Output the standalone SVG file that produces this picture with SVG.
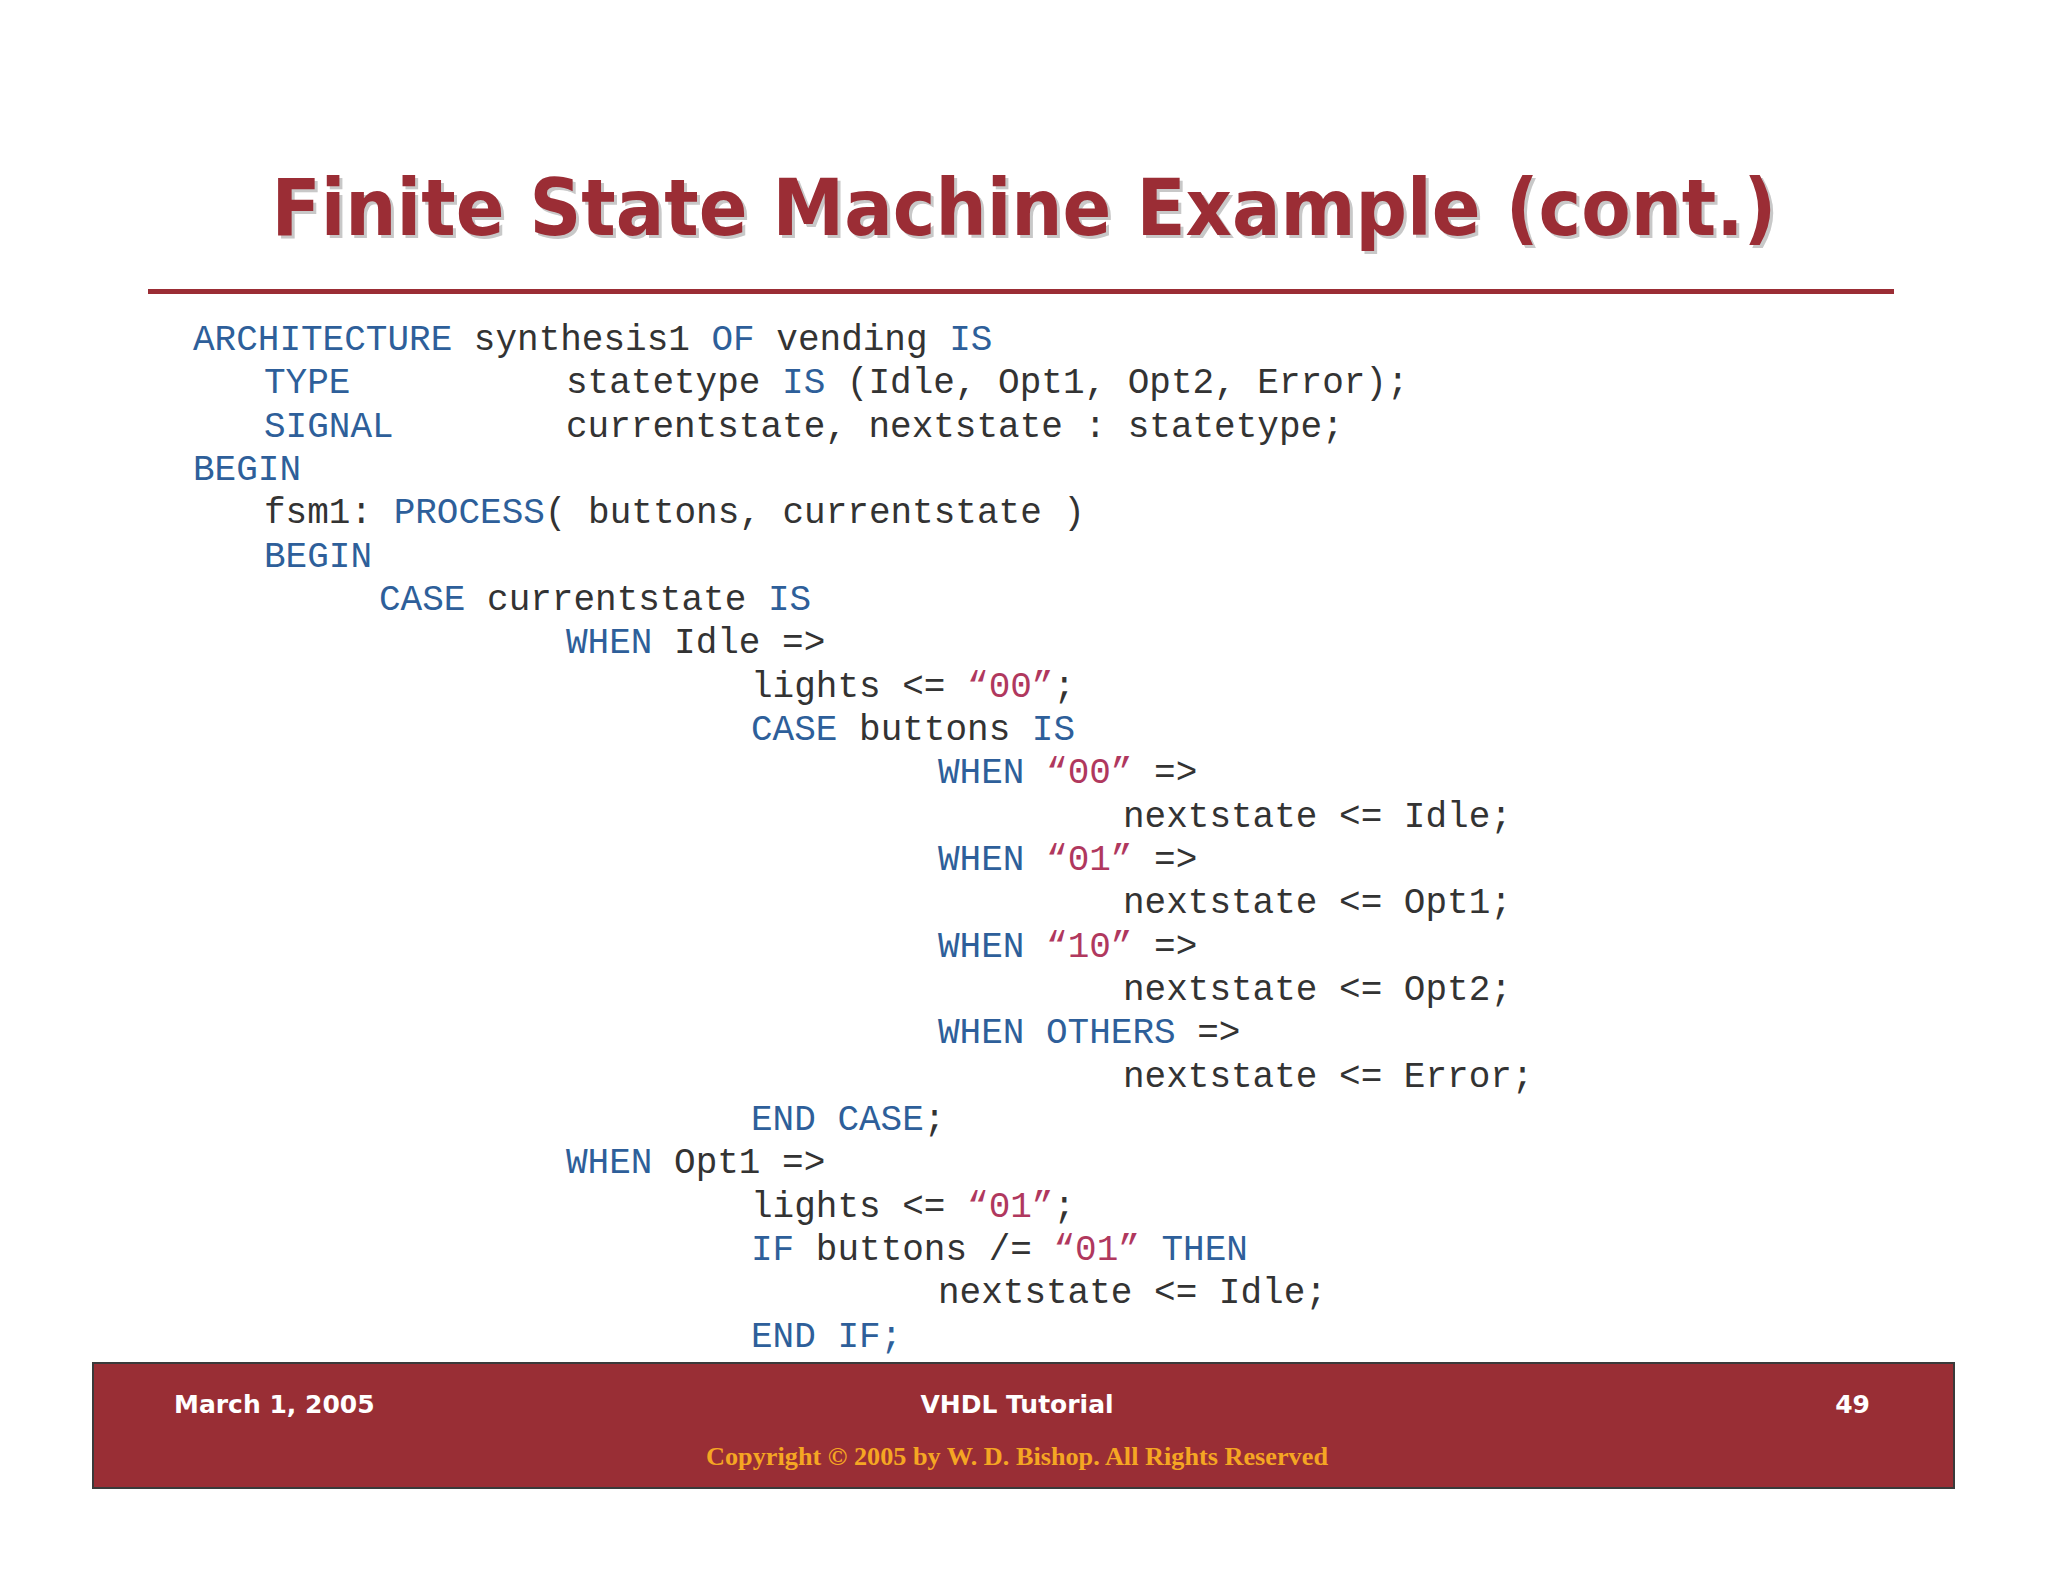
<svg xmlns="http://www.w3.org/2000/svg" width="2048" height="1582" viewBox="0 0 2048 1582">
<style>
.c{font-family:"Liberation Mono","Courier New",monospace;font-size:36px;fill:#333;white-space:pre}
.k{fill:#2e5f9a}.s{fill:#b0385e}
.f{font-family:"DejaVu Sans",Verdana,sans-serif;font-weight:bold;font-size:25px;fill:#fff}
</style>
<rect width="2048" height="1582" fill="#fff"/>
<g id="title">
<text x="1027" y="238" text-anchor="middle" font-family="DejaVu Sans,Verdana,sans-serif" font-weight="bold" font-size="78" fill="#c8c8c8" textLength="1505" lengthAdjust="spacingAndGlyphs">Finite State Machine Example (cont.)</text>
<text x="1024" y="235" text-anchor="middle" font-family="DejaVu Sans,Verdana,sans-serif" font-weight="bold" font-size="78" fill="#9b2d35" textLength="1505" lengthAdjust="spacingAndGlyphs">Finite State Machine Example (cont.)</text>
<rect x="148" y="289" width="1746" height="5" fill="#9b2d35"/>
</g>
<g id="code" class="c">
<text x="193" y="350"><tspan class="k">ARCHITECTURE</tspan> synthesis1 <tspan class="k">OF</tspan> vending <tspan class="k">IS</tspan></text>
<text x="264" y="393" class="k">TYPE</text><text x="566" y="393">statetype <tspan class="k">IS</tspan> (Idle, Opt1, Opt2, Error);</text>
<text x="264" y="437" class="k">SIGNAL</text><text x="566" y="437">currentstate, nextstate   : statetype;</text>
<text x="193" y="480" class="k">BEGIN</text>
<text x="264" y="523">fsm1: <tspan class="k">PROCESS</tspan>( buttons, currentstate )</text>
<text x="264" y="567" class="k">BEGIN</text>
<text x="379" y="610"><tspan class="k">CASE</tspan> currentstate <tspan class="k">IS</tspan></text>
<text x="566" y="653"><tspan class="k">WHEN</tspan> Idle =&gt;</text>
<text x="751" y="697">lights &lt;= <tspan class="s">“00”</tspan>;</text>
<text x="751" y="740"><tspan class="k">CASE</tspan> buttons <tspan class="k">IS</tspan></text>
<text x="938" y="783"><tspan class="k">WHEN</tspan> <tspan class="s">“00”</tspan> =&gt;</text>
<text x="1123" y="827">nextstate &lt;= Idle;</text>
<text x="938" y="870"><tspan class="k">WHEN</tspan> <tspan class="s">“01”</tspan> =&gt;</text>
<text x="1123" y="913">nextstate &lt;= Opt1;</text>
<text x="938" y="957"><tspan class="k">WHEN</tspan> <tspan class="s">“10”</tspan> =&gt;</text>
<text x="1123" y="1000">nextstate &lt;= Opt2;</text>
<text x="938" y="1043"><tspan class="k">WHEN OTHERS</tspan> =&gt;</text>
<text x="1123" y="1087">nextstate &lt;= Error;</text>
<text x="751" y="1130"><tspan class="k">END CASE</tspan>;</text>
<text x="566" y="1173"><tspan class="k">WHEN</tspan> Opt1 =&gt;</text>
<text x="751" y="1217">lights &lt;= <tspan class="s">“01”</tspan>;</text>
<text x="751" y="1260"><tspan class="k">IF</tspan> buttons /= <tspan class="s">“01”</tspan> <tspan class="k">THEN</tspan></text>
<text x="938" y="1303">nextstate &lt;= Idle;</text>
<text x="751" y="1347" class="k">END IF;</text>
</g>
<g id="footer">
<rect x="93" y="1363" width="1861" height="125" fill="#992e35" stroke="#3a3a3a" stroke-width="2"/>
<text class="f" x="174" y="1413">March 1, 2005</text>
<text class="f" x="1017" y="1413" text-anchor="middle">VHDL Tutorial</text>
<text class="f" x="1870" y="1413" text-anchor="end">49</text>
<text x="1017" y="1465" text-anchor="middle" font-family="Liberation Serif,Times New Roman,serif" font-weight="bold" font-size="25" fill="#f5a623" textLength="622" lengthAdjust="spacingAndGlyphs">Copyright © 2005 by W. D. Bishop.  All Rights Reserved</text>
</g>
</svg>
